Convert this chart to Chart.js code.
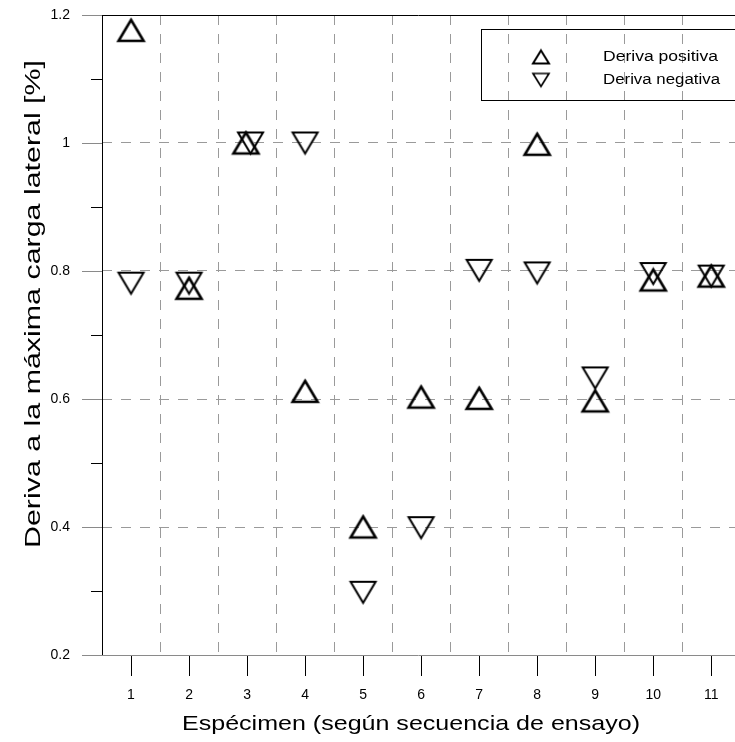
<!DOCTYPE html>
<html>
<head>
<meta charset="utf-8">
<script src="https://cdn.jsdelivr.net/npm/chart.js@4.4.1/dist/chart.umd.min.js"></script>
<style>
  html, body { margin: 0; padding: 0; background: #fff; }
  #wrap { width: 735px; height: 742px; }
</style>
</head>
<body>
<div id="wrap"><canvas id="derivaChart" width="735" height="742"></canvas></div>
<script>
// Especímenes en orden de ensayo
const especimenes = [1, 2, 3, 4, 5, 6, 7, 8, 9, 10, 11];
// desplazamiento horizontal cuando los dos marcadores se solapan
const posX = [1, 2, 2.98, 4, 5, 6, 7, 8, 9, 10, 11];
const negX = [1, 2, 3.06, 4, 5, 6, 7, 8, 9, 10, 11];

// Deriva (%) en la carga lateral máxima
const derivaPositiva = [1.176, 0.773, 1.0, 0.612, 0.40, 0.603, 0.601, 0.998, 0.597, 0.786, 0.792];
const derivaNegativa = [0.781, 0.781, 1.0, 1.0, 0.298, 0.399, 0.801, 0.797, 0.633, 0.796, 0.792];

const yTicks = [0.2, 0.4, 0.6, 0.8, 1.0, 1.2];
const yMinor = [0.3, 0.5, 0.7, 0.9, 1.1];

const FONT = '"Liberation Sans", Arial, sans-serif';
const GRID = '#9a9a9a';

// marcador triangular centrado en su caja (arriba o abajo)
function trianguloCanvas(w, h, down, lw) {
    const pad = 3;
    const c = document.createElement('canvas');
    c.width = w + pad * 2;
    c.height = h + pad * 2;
    const g = c.getContext('2d');
    g.lineWidth = lw;
    g.lineJoin = 'miter';
    g.strokeStyle = '#000';
    g.beginPath();
    if (down) {
        g.moveTo(pad, pad);
        g.lineTo(pad + w, pad);
        g.lineTo(pad + w / 2, pad + h);
    } else {
        g.moveTo(pad + w / 2, pad);
        g.lineTo(pad + w, pad + h);
        g.lineTo(pad, pad + h);
    }
    g.closePath();
    g.stroke();
    return c;
}

const triUp = trianguloCanvas(25, 21, false, 2.6);
const triDown = trianguloCanvas(25, 21, true, 2);
const legUp = trianguloCanvas(16, 13, false, 2);
const legDown = trianguloCanvas(16, 13, true, 1.7);

const puntos = (xs, ys) => xs.map((x, i) => ({ x: x, y: ys[i] }));

// texto ensanchado hasta un ancho dado (el rótulo original es más ancho que Arial)
function textoAncho(ctx, txt, x, y, ancho) {
    const w = ctx.measureText(txt).width;
    ctx.save();
    ctx.translate(x, y);
    ctx.scale(ancho / w, 1);
    ctx.fillText(txt, 0, 0);
    ctx.restore();
}

// ejes, marcas menores, títulos y leyenda
const decoracion = {
    id: 'decoracion',
    beforeDatasetsDraw(chart) {
        const { ctx, chartArea: a, scales: { x, y } } = chart;
        ctx.save();
        // borde superior
        ctx.strokeStyle = '#000';
        ctx.lineWidth = 1;
        ctx.beginPath();
        ctx.moveTo(a.left, a.top + 0.5);
        ctx.lineTo(chart.width, a.top + 0.5);
        ctx.stroke();
        // marcas menores del eje Y
        yMinor.forEach(v => {
            const py = Math.round(y.getPixelForValue(v)) + 0.5;
            ctx.beginPath();
            ctx.moveTo(a.left - 11, py);
            ctx.lineTo(a.left, py);
            ctx.stroke();
        });
        // marcas mayores del eje Y (grises)
        ctx.strokeStyle = '#8a8a8a';
        yTicks.forEach(v => {
            const py = Math.round(y.getPixelForValue(v)) + 0.5;
            ctx.beginPath();
            ctx.moveTo(a.left - 20, py);
            ctx.lineTo(a.left, py);
            ctx.stroke();
        });
        // eje X gris
        ctx.beginPath();
        ctx.moveTo(a.left, a.bottom + 0.5);
        ctx.lineTo(chart.width, a.bottom + 0.5);
        ctx.stroke();
        // eje Y negro
        ctx.strokeStyle = '#000';
        ctx.beginPath();
        ctx.moveTo(a.left + 0.5, a.top);
        ctx.lineTo(a.left + 0.5, a.bottom);
        ctx.stroke();

        // títulos
        ctx.fillStyle = '#000';
        ctx.font = '21px ' + FONT;
        ctx.textAlign = 'left';
        ctx.textBaseline = 'alphabetic';
        textoAncho(ctx, 'Espécimen (según secuencia de ensayo)', 182, 730, 458);
        ctx.save();
        ctx.translate(40, 548);
        ctx.rotate(-Math.PI / 2);
        ctx.font = '22px ' + FONT;
        textoAncho(ctx, 'Deriva a la máxima carga lateral [%]', 0, 0, 488);
        ctx.restore();

        // leyenda
        ctx.strokeStyle = '#000';
        ctx.lineWidth = 1;
        ctx.strokeRect(481.5, 29.5, 300, 71);
        ctx.drawImage(legUp, 541 - legUp.width / 2, 57 - legUp.height / 2);
        ctx.drawImage(legDown, 541 - legDown.width / 2, 80 - legDown.height / 2);
        ctx.font = '14px ' + FONT;
        ctx.textBaseline = 'middle';
        textoAncho(ctx, 'Deriva positiva', 603, 57, 115);
        textoAncho(ctx, 'Deriva negativa', 603, 80, 117);
        ctx.restore();
    }
};

new Chart(document.getElementById('derivaChart'), {
    type: 'scatter',
    data: {
        datasets: [
            {
                label: 'Deriva positiva',
                data: puntos(posX, derivaPositiva),
                pointStyle: triUp,
                pointRadius: 13,
                pointHoverRadius: 13
            },
            {
                label: 'Deriva negativa',
                data: puntos(negX, derivaNegativa),
                pointStyle: triDown,
                pointRadius: 13,
                pointHoverRadius: 13
            }
        ]
    },
    options: {
        responsive: false,
        animation: false,
        devicePixelRatio: 1,
        layout: { autoPadding: false, padding: { top: 15, right: 0, left: 0, bottom: 0 } },
        plugins: {
            legend: { display: false },
            tooltip: { enabled: false }
        },
        scales: {
            x: {
                type: 'linear',
                min: 0.5,
                max: 11.41,
                afterBuildTicks: (s) => {
                    const t = [];
                    for (let v = 1; v <= 10; v++) t.push({ value: v }, { value: v + 0.5 });
                    t.push({ value: 11 });
                    s.ticks = t;
                },
                afterFit: (s) => {
                    s.height = 87;
                    s.paddingLeft = 0;
                    s.paddingRight = 0;
                },
                border: { display: false, dash: [10, 9] },
                grid: {
                    color: (c) => Number.isInteger(c.tick.value) ? 'rgba(0,0,0,0)' : GRID,
                    tickColor: (c) => Number.isInteger(c.tick.value) ? '#000' : 'rgba(0,0,0,0)',
                    tickLength: 21,
                    lineWidth: 1
                },
                ticks: {
                    autoSkip: false,
                    maxRotation: 0,
                    padding: 11,
                    color: '#000',
                    font: { family: FONT, size: 14 },
                    callback: (v) => Number.isInteger(v) ? String(v) : ''
                }
            },
            y: {
                min: 0.2,
                max: 1.2,
                afterBuildTicks: (s) => { s.ticks = yTicks.map(v => ({ value: v })); },
                afterFit: (s) => {
                    s.width = 102;
                    s.paddingTop = 0;
                    s.paddingBottom = 0;
                },
                border: { display: false, dash: [10, 9] },
                grid: {
                    color: (c) => (c.tick.value > 0.25 && c.tick.value < 1.15) ? GRID : 'rgba(0,0,0,0)',
                    drawTicks: false,
                    lineWidth: 1
                },
                ticks: {
                    padding: 32,
                    color: '#000',
                    font: { family: FONT, size: 14 },
                    callback: (v) => String(Math.round(v * 10) / 10)
                }
            }
        }
    },
    plugins: [decoracion]
});
</script>
</body>
</html>
